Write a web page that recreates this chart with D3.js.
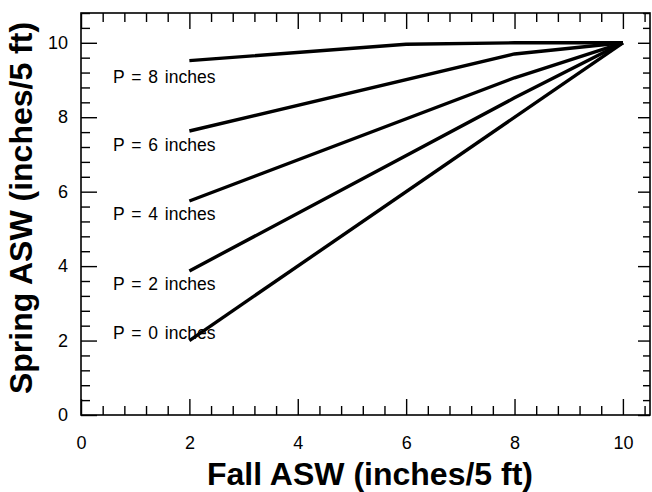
<!DOCTYPE html>
<html>
<head>
<meta charset="utf-8">
<script src="https://cdn.jsdelivr.net/npm/d3@7"></script>
<style>
  html, body { margin: 0; padding: 0; background: #fff; }
  svg { display: block; font-family: "Liberation Sans", Arial, Helvetica, sans-serif; }
</style>
</head>
<body>
<svg id="chart" width="652" height="492"></svg>
<script>
// Fall ASW (x) and resulting Spring ASW (y) for each precipitation amount P
const precipLabels = ["P = 8 inches", "P = 6 inches", "P = 4 inches", "P = 2 inches", "P = 0 inches"];
const fallASW_P8 = [2, 6, 8, 10];
const springASW_P8 = [9.52, 9.96, 10, 10];
const fallASW_P6 = [2, 8, 10];
const springASW_P6 = [7.63, 9.7, 10];
const fallASW_P4 = [2, 8, 10];
const springASW_P4 = [5.75, 9.06, 10];
const fallASW_P2 = [2, 8, 10];
const springASW_P2 = [3.87, 8.52, 10];
const fallASW_P0 = [2, 10];
const springASW_P0 = [2, 10];
const xTickLabels = [0, 2, 4, 6, 8, 10];
const yTickLabels = [0, 2, 4, 6, 8, 10];

const seriesX = [fallASW_P8, fallASW_P6, fallASW_P4, fallASW_P2, fallASW_P0];
const seriesY = [springASW_P8, springASW_P6, springASW_P4, springASW_P2, springASW_P0];

// label anchor heights (data units) for the in-plot annotations
const labelAnchorY = [8.92, 7.09, 5.24, 3.36, 2.04];
const labelAnchorX = 0.59;

const svg = d3.select("#chart");
const frame = { left: 81, right: 650, top: 13, bottom: 415 };

const x = d3.scaleLinear().domain([0, 10.5]).range([frame.left, frame.right]);
const y = d3.scaleLinear().domain([0, 10.8]).range([frame.bottom, frame.top]);

const majorLen = 16, minorLen = 9;
const xMinor = d3.range(0, 27).filter(i => i % 5 !== 0).map(i => i * 0.4);
const yMinor = d3.range(0, 28).filter(i => i % 5 !== 0).map(i => i * 0.4);

function styleAxis(g) {
  g.select(".domain").remove();
  g.selectAll(".tick line").attr("stroke", "#000").attr("stroke-width", 1.4);
}

// bottom axis: major ticks with labels, minor ticks without
svg.append("g").attr("transform", `translate(0,${frame.bottom})`)
  .call(d3.axisBottom(x).tickValues(xTickLabels).tickSizeInner(-majorLen).tickSizeOuter(0).tickPadding(21).tickFormat(d3.format("d")))
  .call(styleAxis)
  .call(g => g.selectAll("text").attr("font-size", 18).attr("fill", "#000").attr("font-family", "Liberation Sans, Arial, sans-serif"));
svg.append("g").attr("transform", `translate(0,${frame.bottom})`)
  .call(d3.axisBottom(x).tickValues(xMinor).tickSizeInner(-minorLen).tickSizeOuter(0).tickFormat(""))
  .call(styleAxis);

// top axis
svg.append("g").attr("transform", `translate(0,${frame.top})`)
  .call(d3.axisTop(x).tickValues(xTickLabels).tickSizeInner(-majorLen).tickSizeOuter(0).tickFormat(""))
  .call(styleAxis);
svg.append("g").attr("transform", `translate(0,${frame.top})`)
  .call(d3.axisTop(x).tickValues(xMinor).tickSizeInner(-minorLen).tickSizeOuter(0).tickFormat(""))
  .call(styleAxis);

// left axis with labels
svg.append("g").attr("transform", `translate(${frame.left},0)`)
  .call(d3.axisLeft(y).tickValues(yTickLabels).tickSizeInner(-majorLen).tickSizeOuter(0).tickPadding(13).tickFormat(d3.format("d")))
  .call(styleAxis)
  .call(g => g.selectAll("text").attr("font-size", 18).attr("fill", "#000").attr("font-family", "Liberation Sans, Arial, sans-serif"));
svg.append("g").attr("transform", `translate(${frame.left},0)`)
  .call(d3.axisLeft(y).tickValues(yMinor).tickSizeInner(-minorLen).tickSizeOuter(0).tickFormat(""))
  .call(styleAxis);

// right axis
svg.append("g").attr("transform", `translate(${frame.right},0)`)
  .call(d3.axisRight(y).tickValues(yTickLabels).tickSizeInner(-majorLen + 4).tickSizeOuter(0).tickFormat(""))
  .call(styleAxis);
svg.append("g").attr("transform", `translate(${frame.right},0)`)
  .call(d3.axisRight(y).tickValues(yMinor).tickSizeInner(-minorLen + 2).tickSizeOuter(0).tickFormat(""))
  .call(styleAxis);

// plot frame
svg.append("rect")
  .attr("x", frame.left).attr("y", frame.top)
  .attr("width", frame.right - frame.left).attr("height", frame.bottom - frame.top)
  .attr("fill", "none").attr("stroke", "#000").attr("stroke-width", 1.6);

// curves
const line = d3.line().x(d => x(d[0])).y(d => y(d[1]));
seriesX.forEach((xs, i) => {
  svg.append("path")
    .datum(xs.map((v, j) => [v, seriesY[i][j]]))
    .attr("d", line)
    .attr("fill", "none")
    .attr("stroke", "#000")
    .attr("stroke-width", 3.4)
    .attr("stroke-linejoin", "round")
    .attr("stroke-linecap", "butt");
});

// annotations
svg.append("g").selectAll("text")
  .data(precipLabels)
  .join("text")
  .attr("x", x(labelAnchorX))
  .attr("y", (d, i) => y(labelAnchorY[i]))
  .attr("font-size", 17.5)
  .attr("word-spacing", "2px")
  .attr("fill", "#000")
  .text(d => d);

// axis titles
svg.append("text")
  .attr("x", 370).attr("y", 485)
  .attr("text-anchor", "middle")
  .attr("font-size", 32).attr("font-weight", "bold")
  .text("Fall ASW (inches/5 ft)");

svg.append("text")
  .attr("transform", "translate(32,208) rotate(-90)")
  .attr("text-anchor", "middle")
  .attr("font-size", 32).attr("font-weight", "bold")
  .text("Spring ASW (inches/5 ft)");
</script>
</body>
</html>
